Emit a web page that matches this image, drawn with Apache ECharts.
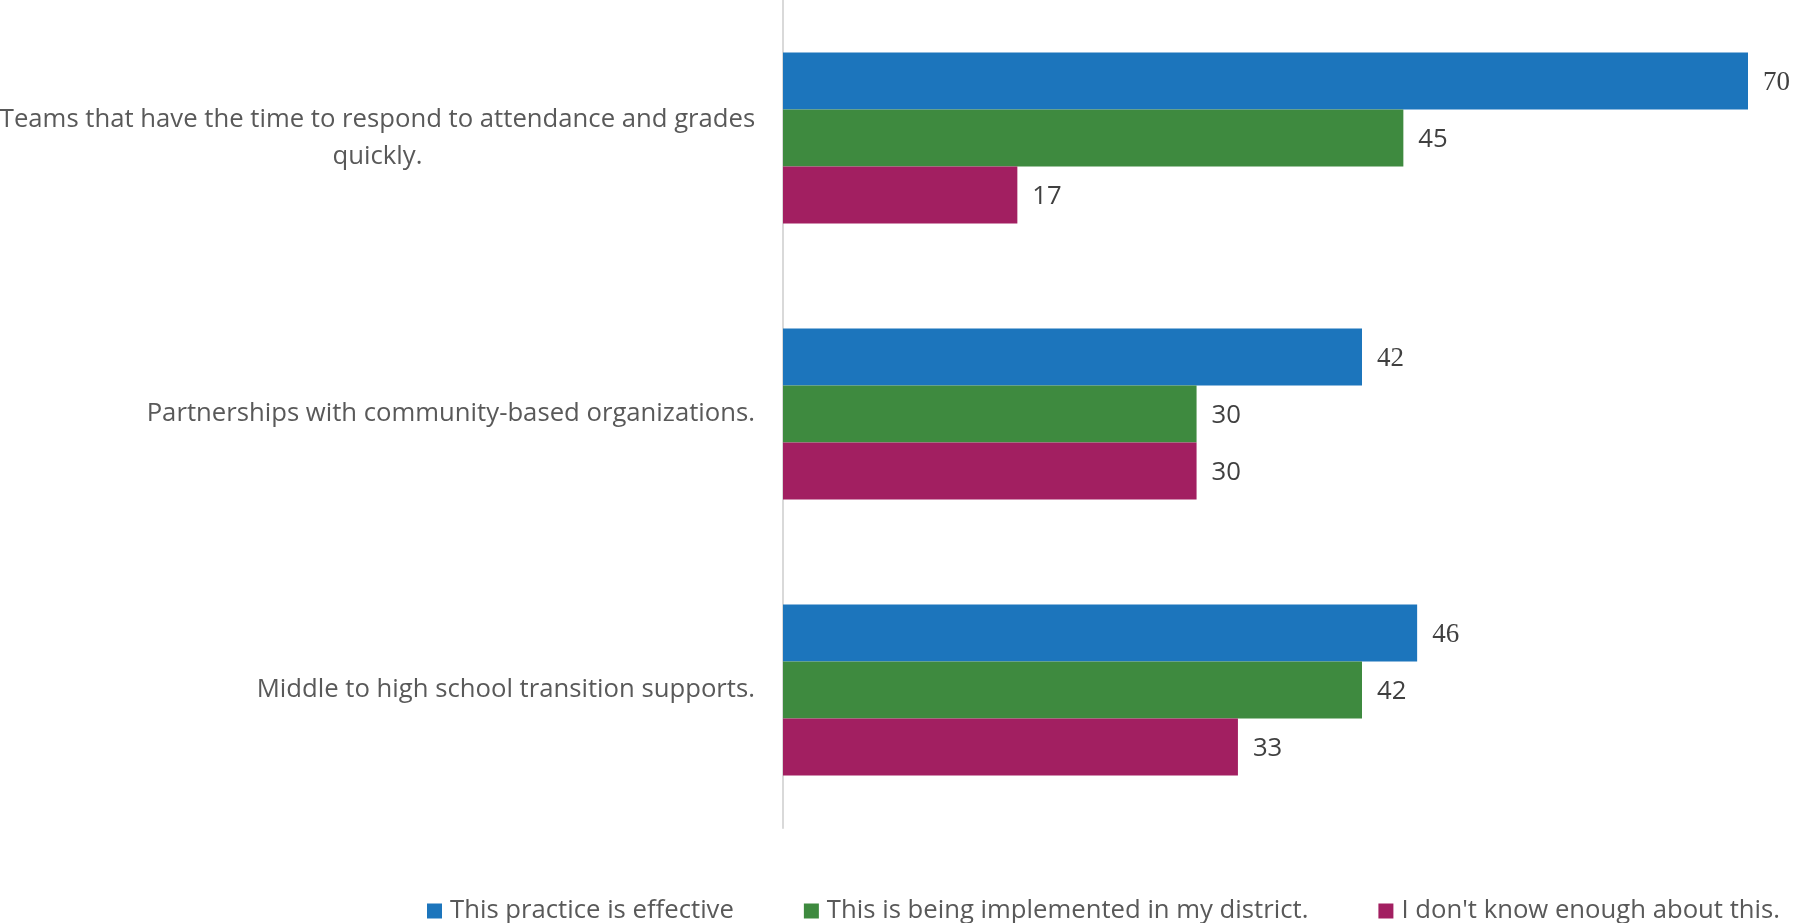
<!DOCTYPE html>
<html><head><meta charset="utf-8">
<script src="https://cdn.jsdelivr.net/npm/echarts@6/dist/echarts.min.js"></script>
<style>html,body{margin:0;padding:0;background:#fff}#c{width:1798px;height:923px}</style>
</head><body><div id="c"></div>
<script>
const categories = [
  'Teams that have the time to respond to attendance and grades\nquickly.',
  'Partnerships with community-based organizations.',
  'Middle to high school transition supports.'
];
const seriesNames = ['This practice is effective', 'This is being implemented in my district.', "I don't know enough about this."];
const effective = [70, 42, 46];
const implemented = [45, 30, 42];
const dontKnow = [17, 30, 33];
const colors = ['#1c75bc', '#3e8a3f', '#a21f61'];

const chart = echarts.init(document.getElementById('c'));
const sans = 'Open Sans';
const serif = 'Liberation Serif';
const fs = 25.7;
function mk(name, data, color, useSerif) {
  return {
    name, type: 'bar', data, barWidth: 57, barGap: '0%',
    itemStyle: { color },
    label: { show: true, position: 'right', distance: 15, offset: [0, 2],
      formatter: useSerif ? '{s|{c}}' : '{c}',
      rich: { s: { fontFamily: serif, fontSize: 27, color: '#404040' } },
      fontFamily: useSerif ? serif : sans,
      fontSize: useSerif ? 27 : fs, color: '#404040' }
  };
}
chart.setOption({
  animation: false,
  grid: { left: 783, right: 50, top: 0, bottom: 95, containLabel: false, outerBoundsMode: 'none' },
  legend: {
    top: 891, left: 422, width: 1370, itemWidth: 15, itemHeight: 15, itemGap: 70,
    icon: 'rect',
    textStyle: { fontFamily: sans, fontSize: fs, color: '#595959', lineHeight: 30, padding: [0, 0, 0, 3] }
  },
  xAxis: { type: 'value', min: 0, max: 70, show: false },
  yAxis: {
    type: 'category', inverse: true,
    data: [
      { value: categories[0], textStyle: { align: 'center', padding: [4, 755, 0, 0], lineHeight: 37 } },
      categories[1], categories[2]
    ],
    axisLine: { show: true, lineStyle: { color: '#d9d9d9', width: 2 } },
    axisTick: { show: false },
    axisLabel: { margin: 28, fontFamily: sans, fontSize: fs, color: '#595959', lineHeight: 37 }
  },
  series: [
    mk(seriesNames[0], effective, colors[0], true),
    mk(seriesNames[1], implemented, colors[1], false),
    mk(seriesNames[2], dontKnow, colors[2], false)
  ]
});
</script></body></html>
